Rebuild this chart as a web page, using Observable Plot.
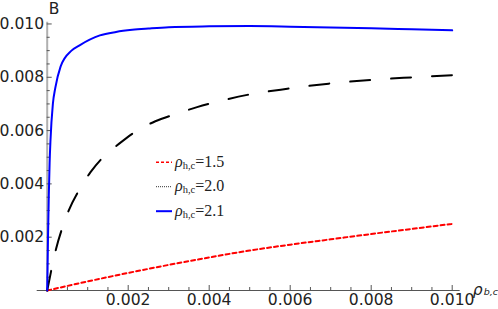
<!DOCTYPE html>
<html>
<head>
<meta charset="utf-8">
<script src="https://cdn.jsdelivr.net/npm/d3@7"></script>
<script src="https://cdn.jsdelivr.net/npm/@observablehq/plot@0.6"></script>
<style>
  html, body { margin: 0; padding: 0; background: #fff; }
  #chart { width: 498px; height: 309px; }
</style>
</head>
<body>
<div id="chart"></div>
<script>
// ---- data ----
const redX   = [0, 0.001, 0.002, 0.003, 0.004, 0.005, 0.006, 0.007, 0.008, 0.009, 0.010];
const redY   = [0, 0.00034, 0.00066, 0.00096, 0.00124, 0.0015, 0.00172, 0.00192, 0.00212, 0.00231, 0.0025];

const blackX = [0, 0.0001, 0.00022, 0.00036, 0.00053, 0.00078, 0.00107, 0.0014, 0.00177, 0.00222, 0.00267, 0.00313, 0.0037, 0.0043, 0.00494, 0.00593, 0.00695, 0.00798, 0.00905, 0.010];
const blackY = [0, 0.00075, 0.00157, 0.00229, 0.0030, 0.00375, 0.00444, 0.00503, 0.0055, 0.0060, 0.00635, 0.0066, 0.00688, 0.00712, 0.00734, 0.00757, 0.00776, 0.0079, 0.0080, 0.00808];

const blueX  = [0, 0.00002, 0.00004, 0.00006, 0.00008, 0.00014, 0.0002, 0.00033, 0.0006, 0.0008, 0.0013, 0.0017, 0.0021, 0.0025, 0.003, 0.004, 0.005, 0.006, 0.007, 0.008, 0.009, 0.010];
const blueY  = [0, 0.0020, 0.0036, 0.0048, 0.0056, 0.0070, 0.0076, 0.0084, 0.0090, 0.0092, 0.00957, 0.0097, 0.00978, 0.00983, 0.00988, 0.00991, 0.00992, 0.0099, 0.00987, 0.00984, 0.0098, 0.00976];

const legendLabels = ["1.5", "2.0", "2.1"];
const xMajorTicks = [0.002, 0.004, 0.006, 0.008, 0.010];
const xMinorTicks = [0.0005, 0.001, 0.0015, 0.0025, 0.003, 0.0035, 0.0045, 0.005, 0.0055, 0.0065, 0.007, 0.0075, 0.0085, 0.009, 0.0095];
const yMajorTicks = [0.002, 0.004, 0.006, 0.008, 0.010];
const yMinorTicks = [0.0005, 0.001, 0.0015, 0.0025, 0.003, 0.0035, 0.0045, 0.005, 0.0055, 0.0065, 0.007, 0.0075, 0.0085, 0.009, 0.0095];

const toRows = (xs, ys) => xs.map((x, i) => ({x, y: ys[i]}));
const red = toRows(redX, redY);
const black = toRows(blackX, blackY);
const blue = toRows(blueX, blueY);

const fmt = d3.format(".3f");
const tickColor = "#555";
const textColor = "#222";
const labelFont = "DejaVu Sans";

const plot = Plot.plot({
  width: 498,
  height: 309,
  marginLeft: 46.7,
  marginRight: 46.3,
  marginTop: 20.8,
  marginBottom: 19,
  style: {fontFamily: labelFont, fontSize: "15.6px", background: "#fff", color: textColor},
  x: {domain: [0, 0.01]},
  y: {domain: [0, 0.0101]},
  marks: [
    // axis lines
    Plot.ruleX([0], {stroke: "#b0b0b0", strokeWidth: 2, insetTop: 1, insetBottom: -2}),
    Plot.ruleY([0], {stroke: tickColor, strokeWidth: 1, insetLeft: -10, insetRight: -8}),
    // x ticks (pointing up, inside)
    Plot.axisX({ticks: xMinorTicks, tickSize: 3, dy: -3, fill: "none", stroke: tickColor, label: null}),
    Plot.axisX({ticks: xMajorTicks, tickSize: 5, dy: -5, tickPadding: 3.5, tickFormat: fmt, stroke: tickColor, fill: textColor, fontSize: 15.6, fontFamily: labelFont, label: null}),
    // y ticks (pointing right, inside)
    Plot.axisY({ticks: yMinorTicks, tickSize: 3, dx: 3, fill: "none", stroke: tickColor, label: null}),
    Plot.axisY({ticks: yMajorTicks, tickSize: 5, dx: 5, tickPadding: 3, tickFormat: fmt, stroke: tickColor, fill: textColor, fontSize: 15.6, fontFamily: labelFont, label: null}),
    // curves
    Plot.line(red, {x: "x", y: "y", stroke: "#ff0000", strokeWidth: 2, strokeDasharray: "4,3", curve: "monotone-x"}),
    Plot.line(black, {x: "x", y: "y", stroke: "#000", strokeWidth: 2, strokeDasharray: "20,21", curve: "monotone-x"}),
    Plot.line(blue, {x: "x", y: "y", stroke: "#0000ff", strokeWidth: 2, curve: "monotone-x"}),
    // panel letter
    Plot.text(["B"], {frameAnchor: "top-left", lineAnchor: "bottom", textAnchor: "start", dx: 1.5, dy: -7.5, fontSize: 15.5, fontFamily: labelFont, fill: textColor}),
    // x axis label rho_{b,c}
    Plot.text(["ρ"], {frameAnchor: "bottom-right", lineAnchor: "bottom", textAnchor: "start", dx: 20.5, dy: 4.5, fontSize: 15.5, fontStyle: "italic", fontFamily: labelFont, fill: textColor}),
    Plot.text(["b,c"], {frameAnchor: "bottom-right", lineAnchor: "bottom", textAnchor: "start", dx: 31.5, dy: 4, fontSize: 9.5, fontStyle: "italic", fontFamily: labelFont, fill: textColor})
  ]
});

// legend inside the plot area
const legendColors = ["#ff0000", "#333", "#0000ff"];
const legendDash = ["3,2", "1,1", null];
const legendWidths = [1.6, 1, 2];
const svg = d3.select(plot);
const lg = svg.append("g")
  .attr("text-anchor", "start")
  .attr("font-family", "'Liberation Serif', 'Times New Roman', serif")
  .attr("font-size", 16)
  .attr("fill", textColor);
legendLabels.forEach((lab, i) => {
  const by = 166.7 + i * 24.5;
  lg.append("line")
    .attr("x1", 156).attr("x2", 172)
    .attr("y1", by - 4.5).attr("y2", by - 4.5)
    .attr("stroke", legendColors[i])
    .attr("stroke-width", legendWidths[i])
    .attr("stroke-dasharray", legendDash[i]);
  const t = lg.append("text").attr("x", 175).attr("y", by);
  t.append("tspan").attr("font-style", "italic").text("ρ");
  t.append("tspan").attr("font-size", 10.5).attr("dy", 1.8).text("h,c");
  t.append("tspan").attr("dy", -1.8).text("=" + lab);
});

document.getElementById("chart").appendChild(plot);
</script>
</body>
</html>
